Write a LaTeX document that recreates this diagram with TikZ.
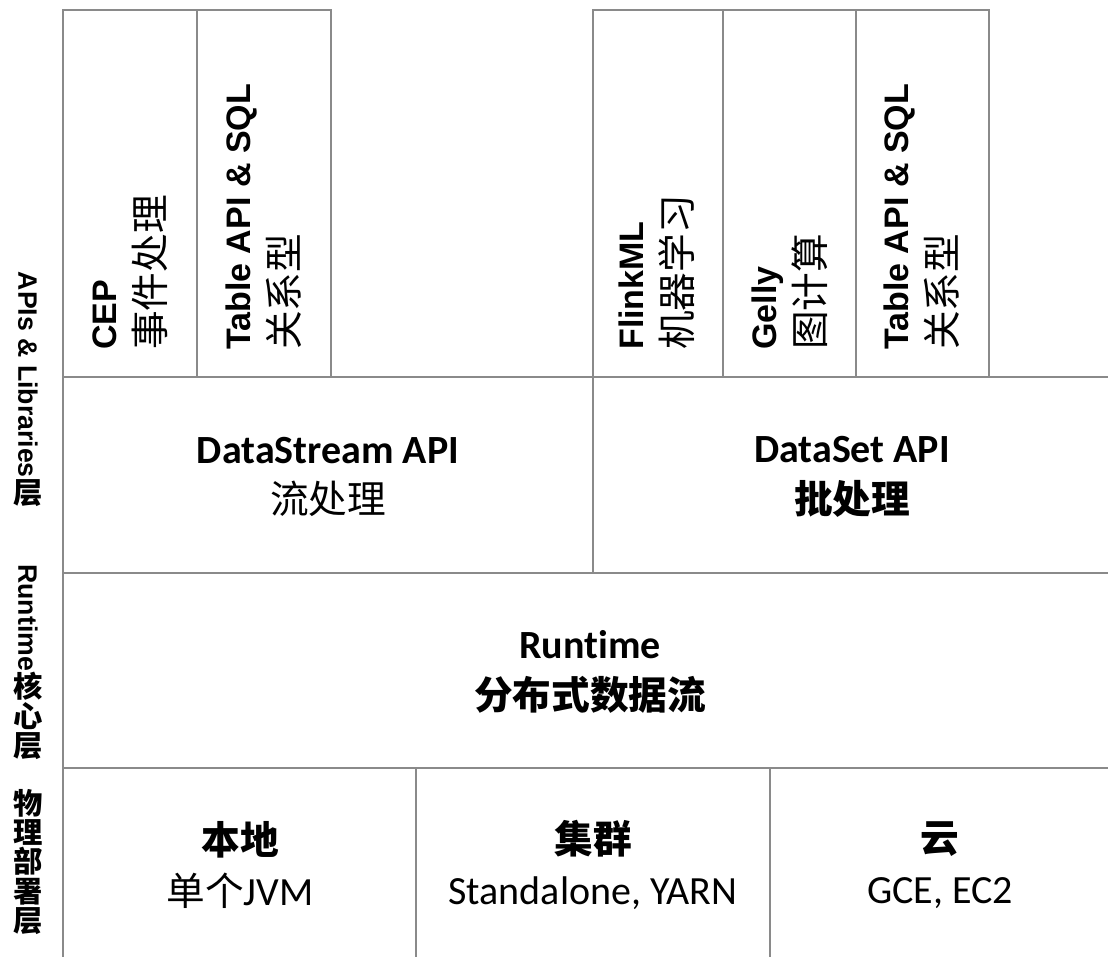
\documentclass[tikz,border=0pt]{standalone}
\usepackage{fontspec}
\usepackage{graphicx}
\setmainfont{Carlito}[Ligatures=NoCommon]
\newfontfamily\arialfont{Liberation Sans}
\newfontfamily\cjk{Noto Sans CJK SC}
\definecolor{linegray}{HTML}{8A8A8A}
\newcommand{\zh}[1]{{\cjk\fontsize{29}{38}\selectfont #1}}
\newcommand{\zhs}[1]{{\cjk\bfseries\fontsize{22}{22}\selectfont #1}}

\begin{document}
\begin{tikzpicture}[
		x=0.75pt, y=-0.75pt,
		every node/.style={inner sep=0pt, align=center},
		grid/.style={draw=linegray, line width=1.5pt},
		maintext/.style={font=\fontsize{30}{38}\selectfont},
		libtext/.style={rotate=90, anchor=west, align=left, font=\arialfont\bfseries\fontsize{25.5}{36}\selectfont},
		sidetext/.style={font=\arialfont\bfseries\fontsize{20}{22}\selectfont}
	]
  \useasboundingbox (0,0) rectangle (1108,957);
  % library boxes
  \draw [grid] (63,10) rectangle (197,377);
  \draw [grid] (197,10) rectangle (331,377);
  \draw [grid] (593,10) rectangle (723,377);
  \draw [grid] (723,10) rectangle (856,377);
  \draw [grid] (856,10) rectangle (989,377);
  % layer lines
  \draw [grid] (63,377) -- (1108,377);
  \draw [grid] (63,573) -- (1108,573);
  \draw [grid] (63,768) -- (1108,768);
  \draw [grid] (63,10) -- (63,957);
  \draw [grid] (593,377) -- (593,573);
  \draw [grid] (416,768) -- (416,957);
  \draw [grid] (770,768) -- (770,957);

  \node (cep) [libtext] at (130,350) {CEP\\\zh{\mdseries 事件处理}};
  \node (table_s) [libtext] at (264,350) {Table API \& SQL\\\zh{\mdseries 关系型}};
  \node (flinkml) [libtext] at (657,350) {FlinkML\\\zh{\mdseries 机器学习}};
  \node (gelly) [libtext] at (790,350) {Gelly\\\zh{\mdseries 图计算}};
  \node (table_b) [libtext] at (922,350) {Table API \& SQL\\\zh{\mdseries 关系型}};

  \node (datastream) [maintext] at (328,477) {\bfseries DataStream API\\\zh{流处理}};
  \node (dataset) [maintext] at (852,477) {\bfseries DataSet API\\\zh{\bfseries 批处理}};
  \node (runtime) [maintext] at (590,672) {\bfseries Runtime\\\zh{\bfseries 分布式数据流}};

  \node (local) [maintext] at (240,865) {\zh{\bfseries 本地}\\\zh{单个}JVM};
  \node (cluster) [maintext] at (593,865) {\zh{\bfseries 集群}\\Standalone, YARN};
  \node (cloud) [maintext] at (940,865) {\zh{\bfseries 云}\\GCE, EC2};

  \node (apis_label) [sidetext] at (28,389) {\rotatebox{-90}{APIs \& Libraries}\\\zhs{层}};
  \node (runtime_label) [sidetext] at (28,662) {\rotatebox{-90}{Runtime}\\\zhs{核}\\\zhs{心}\\\zhs{层}};
  \node (deploy_label) [sidetext] at (28,862) {\zhs{物}\\\zhs{理}\\\zhs{部}\\\zhs{署}\\\zhs{层}};
\end{tikzpicture}
\end{document}
